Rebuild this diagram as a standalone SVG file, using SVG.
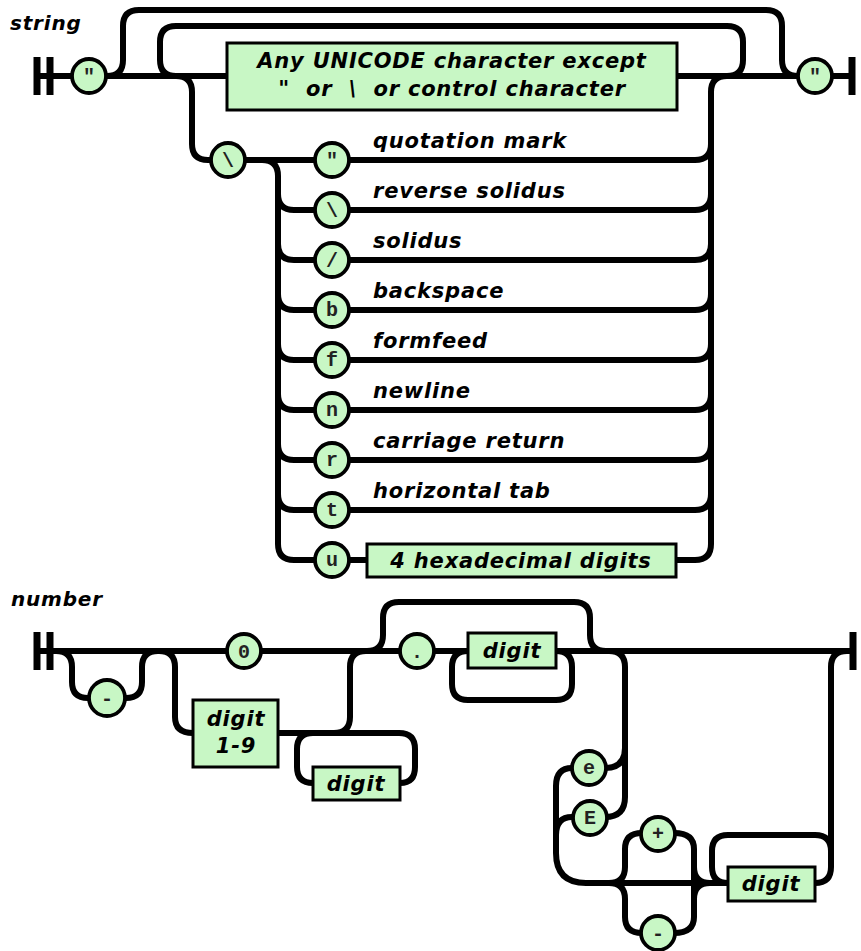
<svg xmlns="http://www.w3.org/2000/svg" width="861" height="951" viewBox="0 0 861 951">
<style>
.w{fill:none;stroke:#000;stroke-width:6;stroke-linecap:butt;stroke-linejoin:round}
.bar{stroke:#000;stroke-width:7}
.c{fill:#c8f7c5;stroke:#000;stroke-width:3.8}
.b{fill:#c8f7c5;stroke:#000;stroke-width:3}
.t{font-family:"DejaVu Sans","Liberation Sans",sans-serif;font-weight:bold;font-style:italic;font-size:21px;letter-spacing:0.8px;fill:#000}
.m{font-family:"Liberation Mono","DejaVu Sans Mono",monospace;font-weight:bold;font-size:20px;fill:#222;text-anchor:middle}
.mid{text-anchor:middle}
.pre{white-space:pre}
</style>
<rect width="861" height="951" fill="#fff"/>
<text class="t" x="10" y="30" style="font-size:20px">string</text>
<text class="t" x="11" y="606" style="font-size:20px">number</text>
<g id="connectors">
<!-- string -->
<line class="bar" x1="37" y1="57" x2="37" y2="95"/>
<line class="bar" x1="50" y1="57" x2="50" y2="95"/>
<line class="bar" x1="852" y1="57" x2="852" y2="95"/>
<path class="w" d="M37,76 H852"/>
<path class="w" d="M107,76 Q123,76 123,60 V26 Q123,10 139,10 H766 Q782,10 782,26 V60 Q782,76 798,76"/>
<path class="w" d="M727,76 Q743,76 743,60 V42 Q743,26 727,26 H176 Q160,26 160,42 V60 Q160,76 176,76"/>
<path class="w" d="M176,76 Q192,76 192,92 V144 Q192,160 208,160 H262 Q278,160 278,176 V544"/>
<path class="w" d="M245,160 H695 Q711,160 711,144 V92 Q711,76 727,76"/>
<path class="w" d="M711,144 V544"/>
<path class="w" d="M278,194 Q278,210 294,210 H695 Q711,210 711,194"/>
<path class="w" d="M278,244 Q278,260 294,260 H695 Q711,260 711,244"/>
<path class="w" d="M278,294 Q278,310 294,310 H695 Q711,310 711,294"/>
<path class="w" d="M278,344 Q278,360 294,360 H695 Q711,360 711,344"/>
<path class="w" d="M278,394 Q278,410 294,410 H695 Q711,410 711,394"/>
<path class="w" d="M278,444 Q278,460 294,460 H695 Q711,460 711,444"/>
<path class="w" d="M278,494 Q278,510 294,510 H695 Q711,510 711,494"/>
<path class="w" d="M278,544 Q278,560 294,560 H695 Q711,560 711,544"/>
<!-- number -->
<line class="bar" x1="37" y1="632" x2="37" y2="670"/>
<line class="bar" x1="50" y1="632" x2="50" y2="670"/>
<line class="bar" x1="853" y1="632" x2="853" y2="670"/>
<path class="w" d="M37,651 H853"/>
<path class="w" d="M56,651 Q72,651 72,667 V682 Q72,698 88,698"/>
<path class="w" d="M126,698 Q142,698 142,682 V667 Q142,651 158,651"/>
<path class="w" d="M159,651 Q175,651 175,667 V717 Q175,733 193,733"/>
<path class="w" d="M278,733 H399 Q415,733 415,749 V767 Q415,783 400,783"/>
<path class="w" d="M313,783 Q297,783 297,767 V749 Q297,733 313,733"/>
<path class="w" d="M334,733 Q350,733 350,717 V667 Q350,651 366,651"/>
<path class="w" d="M367,651 Q383,651 383,635 V618 Q383,602 399,602 H574 Q590,602 590,618 V635 Q590,651 606,651"/>
<path class="w" d="M556,651 Q572,651 572,667 V684 Q572,700 556,700 H468 Q452,700 452,684 V667 Q452,651 468,651"/>
<path class="w" d="M609,651 Q625,651 625,667 V797 Q625,817 605,817"/>
<path class="w" d="M605,768 Q625,768 625,748"/>
<path class="w" d="M572,768 Q556,768 556,786 V853 Q556,883 586,883 H728"/>
<path class="w" d="M572,817 Q556,817 556,835"/>
<path class="w" d="M609,883 Q625,883 625,867 V849 Q625,833 642,833"/>
<path class="w" d="M609,883 Q625,883 625,899 V917 Q625,933 642,933"/>
<path class="w" d="M674,833 Q694,833 694,849 V917 Q694,933 674,933"/>
<path class="w" d="M694,867 Q694,883 710,883"/>
<path class="w" d="M694,899 Q694,883 710,883"/>
<path class="w" d="M815,883 Q831,883 831,867 V667 Q831,651 847,651"/>
<path class="w" d="M831,851 Q831,835 815,835 H728 Q712,835 712,851 V867 Q712,883 728,883"/>
</g>
<g id="s_quote_open"><circle class="c" cx="89" cy="76" r="17"/><text class="m" x="89" y="83">"</text></g>
<g id="s_any"><rect class="b" x="227" y="43" width="450" height="67"/><text class="t mid" x="452" y="68">Any UNICODE character except</text><text class="t mid pre" x="452" y="96">"  or  \  or control character</text></g>
<g id="s_quote_close"><circle class="c" cx="815" cy="76" r="17"/><text class="m" x="815" y="83">"</text></g>
<g id="s_backslash"><circle class="c" cx="228" cy="160" r="17"/><text class="m" x="228" y="167">\</text></g>
<g id="e_quote"><circle class="c" cx="332" cy="160" r="17"/><text class="m" x="332" y="167">"</text><text class="t" x="373" y="148">quotation mark</text></g>
<g id="e_rsolidus"><circle class="c" cx="332" cy="210" r="17"/><text class="m" x="332" y="217">\</text><text class="t" x="373" y="198">reverse solidus</text></g>
<g id="e_solidus"><circle class="c" cx="332" cy="260" r="17"/><text class="m" x="332" y="267">/</text><text class="t" x="373" y="248">solidus</text></g>
<g id="e_b"><circle class="c" cx="332" cy="310" r="17"/><text class="m" x="332" y="316">b</text><text class="t" x="373" y="298">backspace</text></g>
<g id="e_f"><circle class="c" cx="332" cy="360" r="17"/><text class="m" x="332" y="366">f</text><text class="t" x="373" y="348">formfeed</text></g>
<g id="e_n"><circle class="c" cx="332" cy="410" r="17"/><text class="m" x="332" y="416">n</text><text class="t" x="373" y="398">newline</text></g>
<g id="e_r"><circle class="c" cx="332" cy="460" r="17"/><text class="m" x="332" y="466">r</text><text class="t" x="373" y="448">carriage return</text></g>
<g id="e_t"><circle class="c" cx="332" cy="510" r="17"/><text class="m" x="332" y="516">t</text><text class="t" x="373" y="498">horizontal tab</text></g>
<g id="e_u"><circle class="c" cx="332" cy="560" r="17"/><text class="m" x="332" y="566">u</text></g>
<g id="e_hex"><rect class="b" x="367" y="544" width="309" height="33"/><text class="t mid" x="521" y="568">4 hexadecimal digits</text></g>
<g id="n_minus"><circle class="c" cx="107" cy="698" r="18"/><text class="m" x="107" y="705">-</text></g>
<g id="n_zero"><circle class="c" cx="244" cy="651" r="17"/><text class="m" x="244" y="658">0</text></g>
<g id="n_digit19"><rect class="b" x="193" y="700" width="85" height="67"/><text class="t mid" x="236" y="726">digit</text><text class="t mid" x="236" y="753">1-9</text></g>
<g id="n_digit_int"><rect class="b" x="313" y="767" width="87" height="33"/><text class="t mid" x="356" y="791">digit</text></g>
<g id="n_dot"><circle class="c" cx="417" cy="651" r="17"/><text class="m" x="417" y="658">.</text></g>
<g id="n_digit_frac"><rect class="b" x="468" y="633" width="88" height="35"/><text class="t mid" x="512" y="658">digit</text></g>
<g id="n_e"><circle class="c" cx="589" cy="768" r="17"/><text class="m" x="589" y="774">e</text></g>
<g id="n_E"><circle class="c" cx="590" cy="818" r="17"/><text class="m" x="590" y="824">E</text></g>
<g id="n_plus"><circle class="c" cx="658" cy="834" r="17"/><text class="m" x="658" y="840">+</text></g>
<g id="n_minus2"><circle class="c" cx="658" cy="933" r="17"/><text class="m" x="658" y="940">-</text></g>
<g id="n_digit_exp"><rect class="b" x="728" y="867" width="87" height="34"/><text class="t mid" x="771" y="891">digit</text></g>
</svg>
